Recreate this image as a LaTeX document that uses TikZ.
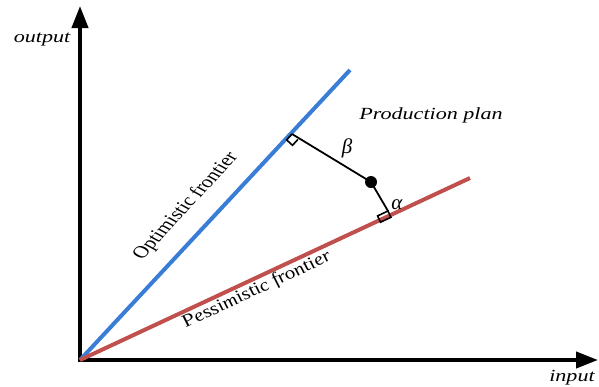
\documentclass[tikz,border=0pt]{standalone}
\usepackage{fontspec}
\setmainfont{Liberation Serif}
\usetikzlibrary{arrows.meta}
\definecolor{optblue}{RGB}{58,125,214}
\definecolor{pesred}{RGB}{192,80,77}
\tikzset{
  axisline/.style={line width=4pt, {Triangle[length=22pt,width=16pt]}-{Triangle[length=22pt,width=16pt]}},
  frontier/.style={line width=4pt},
  seg/.style={line width=1.8pt},
  ramark/.style={line width=1.6pt},
  lbl/.style={font=\fontsize{17}{20}\selectfont, inner sep=0pt, xscale=1.3},
  ilbl/.style={lbl, font=\fontsize{17}{20}\selectfont\itshape},
  greek/.style={inner sep=0pt, font=\fontsize{21}{24}\selectfont\itshape},
}
\begin{document}
\begin{tikzpicture}[x=1pt,y=-1pt]
\useasboundingbox (0,0) rectangle (599,386);
% axes
\coordinate (O) at (80,360);
\coordinate (ytip) at (80,6);
\coordinate (xtip) at (598,360);
\draw[axisline] (ytip) -- (O) -- (xtip);
% frontiers
\coordinate (B) at (350,70);
\coordinate (R) at (470,178);
\draw[frontier, optblue] (O) -- (B);
\draw[frontier, pesred] (O) -- (R);
% production plan point and distances
\coordinate (P) at (371,182);
\coordinate (F1) at (292,134);
\coordinate (F2) at (388,211);
\draw[seg] (P) -- (F1);
\draw[seg] (P) -- (F2);
\fill (P) circle (6pt);
% right-angle marks
\draw[ramark] (F1) -- ++(-5.4,5.9) -- ++(5.9,5.4) -- ++(5.4,-5.9);
\draw[ramark] (F2) -- ++(-10.4,4.9) -- ++(2.9,6.3) -- ++(10.4,-4.9) -- cycle;
% labels
\node[ilbl] (outlbl) at (42,40) {output};
\node[ilbl] (inlbl) at (572,378) {input};
\node[ilbl] (pp) at (431,115) {Production plan};
\node[lbl, rotate=54.4] (optlbl) at (186,206) {Optimistic frontier};
\node[ilbl, rotate=31.2] (peslbl) at (257,290) {Pessimistic frontier};
\node[greek] (beta) at (347,148) {β};
\node[greek] (alpha) at (397,205) {α};
\end{tikzpicture}
\end{document}
